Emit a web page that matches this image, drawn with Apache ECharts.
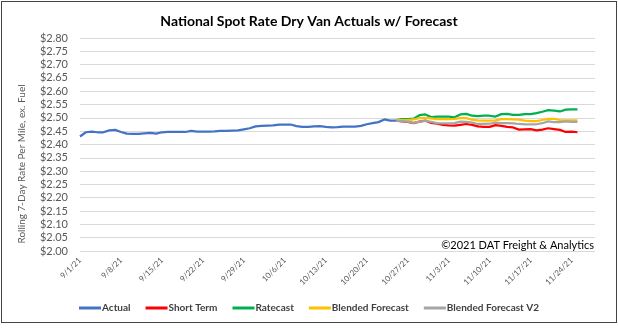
<!DOCTYPE html>
<html>
<head>
<meta charset="utf-8">
<style>
  html, body { margin: 0; padding: 0; background: #fff; }
  #frame { position: absolute; left: 1px; top: 1px; width: 614px; height: 320px; border: 1px solid #444; }
  #chart { position: absolute; left: 0; top: 0; width: 618px; height: 328px; }
</style>
<script src="https://cdn.jsdelivr.net/npm/echarts@6/dist/echarts.min.js"></script>
</head>
<body>
<div id="frame"></div>
<div id="chart"></div>
<script>
// Daily categories 9/1/21 .. 11/28/21, labelled every 7 days
const categories = [];
(function () {
  const d = new Date(2021, 8, 1);
  for (let i = 0; i < 89; i++) {
    categories.push((d.getMonth() + 1) + '/' + d.getDate() + '/21');
    d.setDate(d.getDate() + 1);
  }
})();

// Rolling 7-day national dry van spot rate ($/mile, ex. fuel), 9/1 .. 10/25
const actual = [
  2.430, 2.446, 2.448, 2.446, 2.446, 2.453, 2.455, 2.447, 2.441, 2.440,
  2.440, 2.442, 2.444, 2.441, 2.446, 2.447, 2.447, 2.447, 2.447, 2.451,
  2.448, 2.448, 2.448, 2.449, 2.451, 2.451, 2.452, 2.453, 2.457, 2.461,
  2.468, 2.470, 2.471, 2.472, 2.475, 2.475, 2.475, 2.469, 2.466, 2.466,
  2.468, 2.469, 2.466, 2.464, 2.465, 2.467, 2.467, 2.467, 2.470, 2.476,
  2.480, 2.484, 2.494, 2.490, 2.490
];

// Forecasts, 10/25 .. 11/25
const forecastStart = 54;
const shortTerm = [
  2.490, 2.487, 2.485, 2.480, 2.486, 2.490, 2.481, 2.478, 2.474, 2.472,
  2.471, 2.474, 2.477, 2.474, 2.468, 2.466, 2.466, 2.473, 2.470, 2.466,
  2.464, 2.456, 2.457, 2.458, 2.453, 2.456, 2.461, 2.458, 2.455, 2.447,
  2.448, 2.446
];
const ratecast = [
  2.492, 2.495, 2.495, 2.497, 2.510, 2.513, 2.503, 2.505, 2.505, 2.505,
  2.502, 2.513, 2.515, 2.508, 2.507, 2.508, 2.508, 2.505, 2.514, 2.515,
  2.511, 2.511, 2.514, 2.514, 2.518, 2.523, 2.529, 2.527, 2.524, 2.531,
  2.532, 2.532
];
const blended = [
  2.492, 2.492, 2.492, 2.494, 2.499, 2.499, 2.498, 2.495, 2.495, 2.495,
  2.496, 2.499, 2.499, 2.493, 2.491, 2.490, 2.490, 2.491, 2.495, 2.495,
  2.494, 2.493, 2.490, 2.488, 2.488, 2.492, 2.496, 2.496, 2.492, 2.491,
  2.491, 2.491
];
const blendedV2 = [
  2.490, 2.488, 2.486, 2.481, 2.486, 2.489, 2.485, 2.480, 2.479, 2.479,
  2.480, 2.486, 2.485, 2.482, 2.477, 2.477, 2.478, 2.482, 2.480, 2.480,
  2.479, 2.477, 2.476, 2.476, 2.476, 2.480, 2.487, 2.484, 2.484, 2.487,
  2.485, 2.485
];

function pad(values, start) {
  const out = new Array(categories.length).fill(null);
  values.forEach((v, i) => { out[start + i] = v; });
  return out;
}

const FONT = 'Lato';
const chart = echarts.init(document.getElementById('chart'), null, { renderer: 'canvas' });

function lineSeries(name, data, color) {
  return {
    name: name, type: 'line', data: data, showSymbol: false, symbol: 'none',
    smooth: false, connectNulls: false,
    lineStyle: { color: color, width: 2.25 }, itemStyle: { color: color },
    emphasis: { disabled: true }
  };
}

chart.setOption({
  animation: false,
  title: {
    text: 'National Spot Rate Dry Van Actuals w/ Forecast',
    left: 'center', top: 9,
    textStyle: { fontFamily: FONT, fontSize: 14, fontWeight: 'bold', color: '#000' }
  },
  grid: { left: 80, right: 23, top: 38, bottom: 77, containLabel: false },
  legend: {
    bottom: 10, left: 'center', icon: 'rect', itemWidth: 22, itemHeight: 3, itemGap: 15,
    textStyle: { fontFamily: FONT, fontSize: 10, fontWeight: 'bold', color: '#404040', padding: [0, 0, 0, -4] },
    data: ['Actual', 'Short Term', 'Ratecast', 'Blended Forecast', 'Blended Forecast V2']
  },
  xAxis: {
    type: 'category', data: categories, boundaryGap: false,
    axisLine: { show: false }, axisTick: { show: false },
    axisLabel: {
      rotate: 45, interval: 6, margin: 8,
      fontFamily: FONT, fontSize: 8, color: '#595959'
    }
  },
  yAxis: {
    type: 'value', min: 2.0, max: 2.8, interval: 0.05,
    axisLine: { show: false }, axisTick: { show: false },
    splitLine: { lineStyle: { color: '#d9d9d9', width: 1 } },
    axisLabel: {
      margin: 12, fontFamily: FONT, fontSize: 11, color: '#595959',
      formatter: v => '$' + v.toFixed(2)
    }
  },
  graphic: [
    {
      type: 'text', x: 22, y: 164, rotation: Math.PI / 2,
      style: {
        text: 'Rolling 7-Day Rate Per Mile, ex. Fuel', fontFamily: FONT, fontSize: 10,
        fill: '#595959', align: 'center', verticalAlign: 'middle'
      }
    },
    {
      type: 'text', right: 24, top: 240,
      style: { text: '©2021 DAT Freight & Analytics', fontFamily: FONT, fontSize: 11, fill: '#000' }
    }
  ],
  series: [
    lineSeries('Actual', pad(actual, 0), '#4472C4'),
    lineSeries('Short Term', pad(shortTerm, forecastStart), '#FF0000'),
    lineSeries('Ratecast', pad(ratecast, forecastStart), '#00B050'),
    lineSeries('Blended Forecast', pad(blended, forecastStart), '#FFC000'),
    lineSeries('Blended Forecast V2', pad(blendedV2, forecastStart), '#A5A5A5')
  ]
});
</script>
</body>
</html>
